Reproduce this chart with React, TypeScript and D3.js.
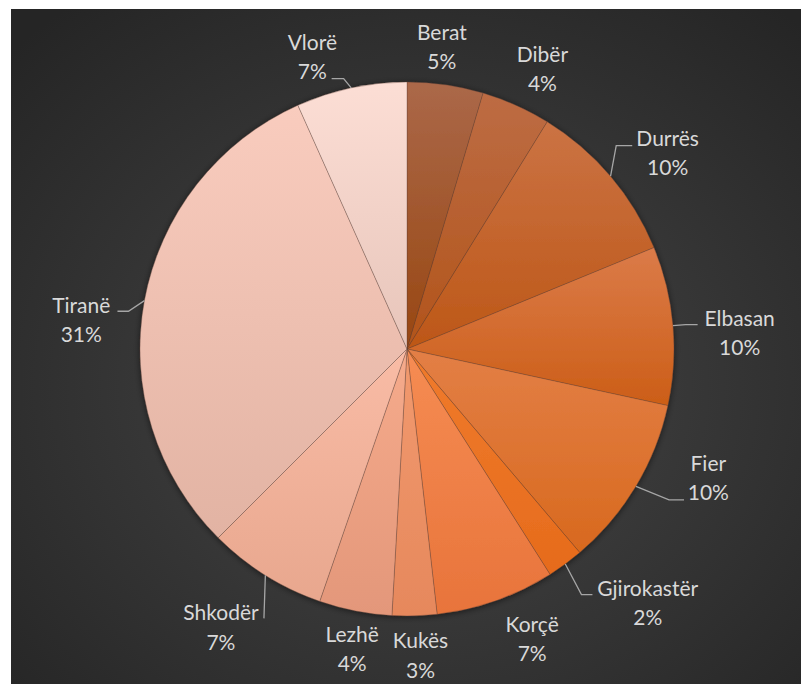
import * as d3 from "d3";

const districts = [
  "Berat", "Dibër", "Durrës", "Elbasan", "Fier", "Gjirokastër",
  "Korçë", "Kukës", "Lezhë", "Shkodër", "Tiranë", "Vlorë",
];
const shares = [4.6, 4.2, 10.0, 9.6, 10.4, 2.2, 7.2, 2.7, 4.4, 7.2, 30.8, 6.7];

// slice fills, top and bottom of each slice's vertical gradient
const sliceTop = [
  "#ab6849", "#bd6c44", "#cb7344", "#db7b49", "#e37f46", "#f07b2c",
  "#f68c53", "#f29a6f", "#f6ab8c", "#f9bca6", "#f9ccbe", "#fcded5",
];
const sliceBottom = [
  "#984712", "#b2541a", "#bd5717", "#cc5e17", "#d8691e", "#e66b1c",
  "#e8743b", "#e6885c", "#e3977a", "#e8a78e", "#e2b3a3", "#e7c5ba",
];

// label placement: angle nudge (deg) from the slice middle, distance from centre
const labelNudge = [-1.7, 1.7, 3.4, 2.3, -7.7, -7.1, -3.9, -0.9, -0.8, 1.7, -5.4, -5.9];
const labelDist = [304, 311, 326, 333, 328, 350, 316, 307, 305, 335, 327, 307];

// leader lines: end relative to the label centre, and length of the flat run
const leaders: Record<number, { dx: number; dy: number; run: number }> = {
  2: { dx: -35.4, dy: -7.5, run: 16 },
  3: { dx: -42, dy: -8.4, run: 12 },
  4: { dx: -24.3, dy: 21.4, run: 15 },
  5: { dx: -55.3, dy: -8.5, run: 11 },
  9: { dx: 43, dy: -9.2, run: 0 },
  10: { dx: 36.2, dy: -9, run: 11 },
  11: { dx: 19.3, dy: 21.6, run: 12 },
};

const width = 801;
const height = 684;
const cx = 407;
const cy = 349;
const radius = 267;

export default function App() {
  const total = d3.sum(shares);
  const arcs = d3
    .pie<number>()
    .sort(null)
    .value((d) => d)(shares);
  const arc = d3.arc<d3.PieArcDatum<number>>().innerRadius(0).outerRadius(radius);

  const polar = (a: number, r: number) => [cx + r * Math.sin(a), cy - r * Math.cos(a)];

  return (
    <svg
      width={width}
      height={height}
      style={{ position: "absolute", left: 0, top: 0, background: "#fff" }}
      fontFamily="Lato, 'Open Sans', sans-serif"
    >
      <defs>
        <radialGradient id="bg" cx="52%" cy="56%" r="72%">
          <stop offset="0%" stopColor="#474747" />
          <stop offset="100%" stopColor="#252525" />
        </radialGradient>
        {arcs.map((_, i) => (
          <linearGradient key={i} id={`slice-${i}`} x1="0" y1="0" x2="0" y2="1">
            <stop offset="0%" stopColor={sliceTop[i]} />
            <stop offset="100%" stopColor={sliceBottom[i]} />
          </linearGradient>
        ))}
        <filter id="shadow" x="-10%" y="-10%" width="120%" height="120%">
          <feDropShadow dx="0" dy="1" stdDeviation="3" floodColor="#000" floodOpacity="0.55" />
        </filter>
      </defs>

      <rect x={11} y={9} width={width - 11} height={height - 9} fill="url(#bg)" />

      <g transform={`translate(${cx},${cy})`} filter="url(#shadow)">
        {arcs.map((d, i) => (
          <path
            key={districts[i]}
            d={arc(d) ?? ""}
            fill={`url(#slice-${i})`}
            stroke="rgba(90,60,50,0.45)"
            strokeWidth={0.7}
          />
        ))}
      </g>

      {arcs.map((d, i) => {
        const mid = (d.startAngle + d.endAngle) / 2;
        const [lx, ly] = polar(mid + (labelNudge[i] * Math.PI) / 180, labelDist[i]);
        const pct = `${Math.round((d.value / total) * 100)}%`;
        const lead = leaders[i];
        let leaderPath = "";
        if (lead) {
          const [sx, sy] = polar(mid, radius);
          const ex = lx + lead.dx;
          const ey = ly + lead.dy;
          const side = ex > sx ? 1 : -1;
          const kx = ex - side * lead.run;
          leaderPath = `M${sx},${sy}L${kx},${ey}L${ex},${ey}`;
        }
        return (
          <g key={districts[i]}>
            {lead && (
              <path d={leaderPath} fill="none" stroke="#a6a6a6" strokeWidth={1.3} />
            )}
            <text
              x={lx}
              y={ly - 14.6}
              dy="0.35em"
              textAnchor="middle"
              fontSize={21}
              fill="#d9d9d9"
            >
              {districts[i]}
            </text>
            <text
              x={lx}
              y={ly + 14.6}
              dy="0.35em"
              textAnchor="middle"
              fontSize={21}
              fill="#d9d9d9"
            >
              {pct}
            </text>
          </g>
        );
      })}
    </svg>
  );
}
